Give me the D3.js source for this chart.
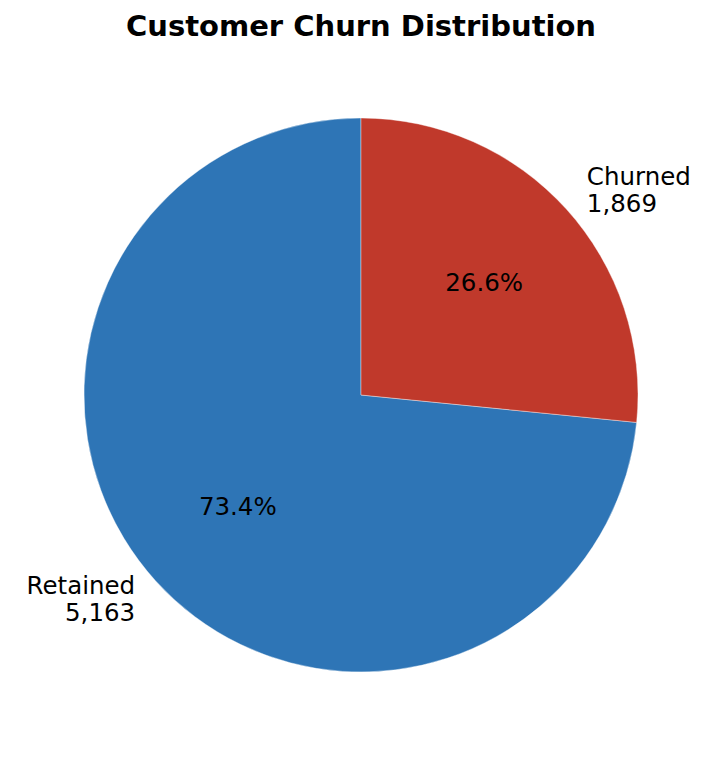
<!DOCTYPE html>
<html>
<head>
  <meta charset="utf-8">
  <script src="https://d3js.org/d3.v7.min.js"></script>
  <style>
    body { margin: 0; background: white; }
    text { font-family: "DejaVu Sans", sans-serif; fill: black; }
    .title { font-size: 29px; font-weight: bold; text-anchor: middle; }
    .label { font-size: 24.5px; }
    .pct { font-size: 24.5px; text-anchor: middle; }
  </style>
</head>
<body>
  <script>
    // chart data
    var categories = ["Retained", "Churned"];
    var counts = [5163, 1869];
    var colors = ["#2e75b6", "#c0392b"];

    var width = 723, height = 757;
    var cx = 361, cy = 395, radius = 277;

    var svg = d3.select("body").append("svg")
        .attr("width", width)
        .attr("height", height);

    svg.append("text")
        .attr("class", "title")
        .attr("x", cx)
        .attr("y", 36)
        .text("Customer Churn Distribution");

    var data = categories.map(function(c, i) { return {name: c, value: counts[i], color: colors[i]}; });
    var total = d3.sum(counts);

    // matplotlib style: start at top, go counterclockwise
    var pie = d3.pie()
        .sort(null)
        .value(function(d) { return d.value; })
        .startAngle(0)
        .endAngle(-2 * Math.PI);

    var arcs = pie(data);

    var arc = d3.arc().innerRadius(0).outerRadius(radius);

    var g = svg.append("g")
        .attr("transform", "translate(" + cx + "," + cy + ")");

    g.selectAll("path")
        .data(arcs)
      .enter().append("path")
        .attr("d", arc)
        .attr("fill", function(d) { return d.data.color; })
        .attr("stroke", "white")
        .attr("stroke-width", 0.4);

    function pos(d, k) {
      var a = (d.startAngle + d.endAngle) / 2;
      return [k * radius * Math.sin(a), -k * radius * Math.cos(a)];
    }

    // outer labels
    var fmt = d3.format(",");
    arcs.forEach(function(d) {
      var p = pos(d, 1.1);
      var t = g.append("text")
          .attr("class", "label")
          .attr("text-anchor", p[0] > 0 ? "start" : "end");
      t.append("tspan").attr("x", p[0]).attr("y", p[1] - 6).text(d.data.name);
      t.append("tspan").attr("x", p[0]).attr("y", p[1] + 21.5).text(fmt(d.data.value));
    });

    // percentage labels
    g.selectAll(".pct")
        .data(arcs)
      .enter().append("text")
        .attr("class", "pct")
        .attr("x", function(d) { return pos(d, 0.6)[0]; })
        .attr("y", function(d) { return pos(d, 0.6)[1] + 8; })
        .text(function(d) { return (d.data.value / total * 100).toFixed(1) + "%"; });
  </script>
</body>
</html>
